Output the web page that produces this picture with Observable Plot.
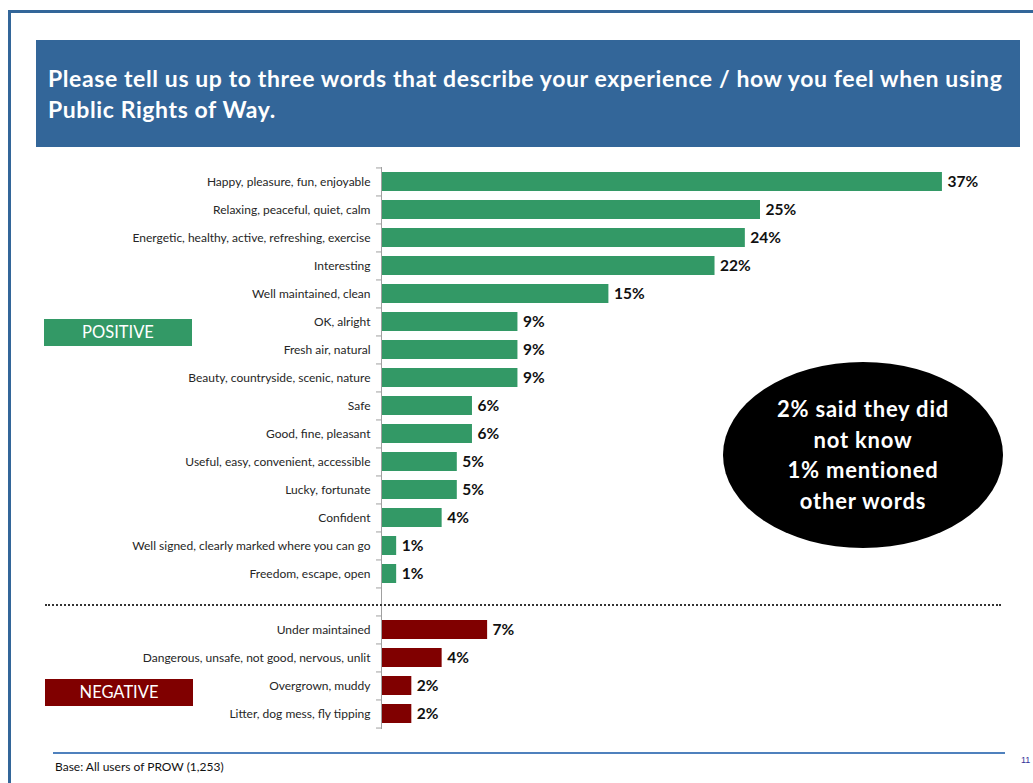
<!DOCTYPE html>
<html>
<head>
<meta charset="utf-8">
<script src="https://cdn.jsdelivr.net/npm/d3@7"></script>
<script src="https://cdn.jsdelivr.net/npm/@observablehq/plot@0.6"></script>
<style>
  html, body { margin: 0; padding: 0; background: #fff; }
  #page { position: relative; width: 1033px; height: 783px; overflow: hidden; font-family: Lato, "Open Sans", sans-serif; }
  #frame { position: absolute; left: 8px; top: 10px; width: 1100px; height: 900px; border-left: 3px solid #336699; border-top: 3px solid #336699; box-sizing: border-box; }
  #title { position: absolute; left: 36px; top: 40px; width: 984px; height: 107px; background: #336699; color: #fff; font-weight: bold; font-size: 23px; letter-spacing: 0.6px; line-height: 31px; box-sizing: border-box; padding: 23px 0 0 12px; }
  #chart { position: absolute; left: 0; top: 0; }
  .tag { position: absolute; width: 148px; height: 27px; color: #fff; font-size: 16.5px; line-height: 27px; text-align: center; }
  #pos { left: 44px; top: 319px; background: #339966; }
  #neg { left: 45px; top: 679px; background: #800000; }
  #sep { position: absolute; left: 45px; top: 604px; width: 956px; border-top: 2px dotted #333; }
  #oval { position: absolute; left: 723px; top: 362px; width: 280px; height: 186px; background: #000; border-radius: 50%; color: #fff; font-weight: bold; font-size: 22px; letter-spacing: 0.8px; line-height: 30.5px; text-align: center; display: flex; align-items: center; justify-content: center; }
  #foot { position: absolute; left: 53px; top: 752px; width: 952px; height: 2px; background: #4f81bd; }
  #base { position: absolute; left: 55px; top: 759px; font-size: 12px; color: #111; }
  #pnum { position: absolute; left: 1021px; top: 755px; font-size: 9px; color: #333399; font-family: "Liberation Sans", Arial, sans-serif; }
</style>
</head>
<body>
<div id="page">
  <div id="frame"></div>
  <div id="title">Please tell us up to three words that describe your experience / how you feel when using<br>Public Rights of Way.</div>
  <div id="chart"></div>
  <div id="sep"></div>
  <div class="tag" id="pos">POSITIVE</div>
  <div class="tag" id="neg">NEGATIVE</div>
  <div id="oval"><div>2% said they did<br>not know<br>1% mentioned<br>other words</div></div>
  <div id="foot"></div>
  <div id="base">Base: All users of PROW (1,253)</div>
  <div id="pnum">11</div>
</div>
<script>
const positiveLabels = [
  "Happy, pleasure, fun, enjoyable",
  "Relaxing, peaceful, quiet, calm",
  "Energetic, healthy, active, refreshing, exercise",
  "Interesting",
  "Well maintained, clean",
  "OK, alright",
  "Fresh air, natural",
  "Beauty, countryside, scenic, nature",
  "Safe",
  "Good, fine, pleasant",
  "Useful, easy, convenient, accessible",
  "Lucky, fortunate",
  "Confident",
  "Well signed, clearly marked where you can go",
  "Freedom, escape, open"
];
const positiveValues = [37, 25, 24, 22, 15, 9, 9, 9, 6, 6, 5, 5, 4, 1, 1];

const negativeLabels = [
  "Under maintained",
  "Dangerous, unsafe, not good, nervous, unlit",
  "Overgrown, muddy",
  "Litter, dog mess, fly tipping"
];
const negativeValues = [7, 4, 2, 2];

const spacer = " ";
const groups = ["positive", "negative"];
const groupColors = ["#339966", "#800000"];

const rows = [
  ...positiveLabels.map((label, i) => ({label, value: positiveValues[i], group: "positive"})),
  ...negativeLabels.map((label, i) => ({label, value: negativeValues[i], group: "negative"}))
];
const domain = [...positiveLabels, spacer, ...negativeLabels];

const W = 1033, H = 783;
const mTop = 167, mBottom = H - 729, mLeft = 381;
const xMax = 40;
const pxPerUnit = 15.16;
const mRight = W - (mLeft + xMax * pxPerUnit);
const step = (H - mTop - mBottom) / domain.length;
const tickLen = 5 / pxPerUnit;

const chart = Plot.plot({
  width: W,
  height: H,
  marginTop: mTop,
  marginBottom: mBottom,
  marginLeft: mLeft,
  marginRight: mRight,
  style: {fontFamily: "Lato, 'Open Sans', sans-serif", fontSize: "12px", color: "#262626", background: "transparent", overflow: "visible"},
  x: {domain: [0, xMax], axis: null},
  y: {domain, paddingInner: 0.32, paddingOuter: 0.16, tickSize: 0, tickPadding: 11, label: null},
  color: {domain: groups, range: groupColors},
  marks: [
    Plot.barX(rows, {x: "value", y: "label", fill: "group"}),
    Plot.ruleX([0], {stroke: "#a0a0a0", strokeWidth: 1}),
    Plot.ruleY(domain, {y: d => d, x1: -tickLen, x2: 0, dy: -step / 2, stroke: "#a0a0a0"}),
    Plot.ruleY([domain[domain.length - 1]], {y: d => d, x1: -tickLen, x2: 0, dy: step / 2, stroke: "#a0a0a0"}),
    Plot.text(rows, {x: "value", y: "label", text: d => d.value + "%", dx: 5, textAnchor: "start", fontWeight: "bold", fontSize: 15.5, fill: "#111"})
  ]
});
document.getElementById("chart").appendChild(chart);
</script>
</body>
</html>
